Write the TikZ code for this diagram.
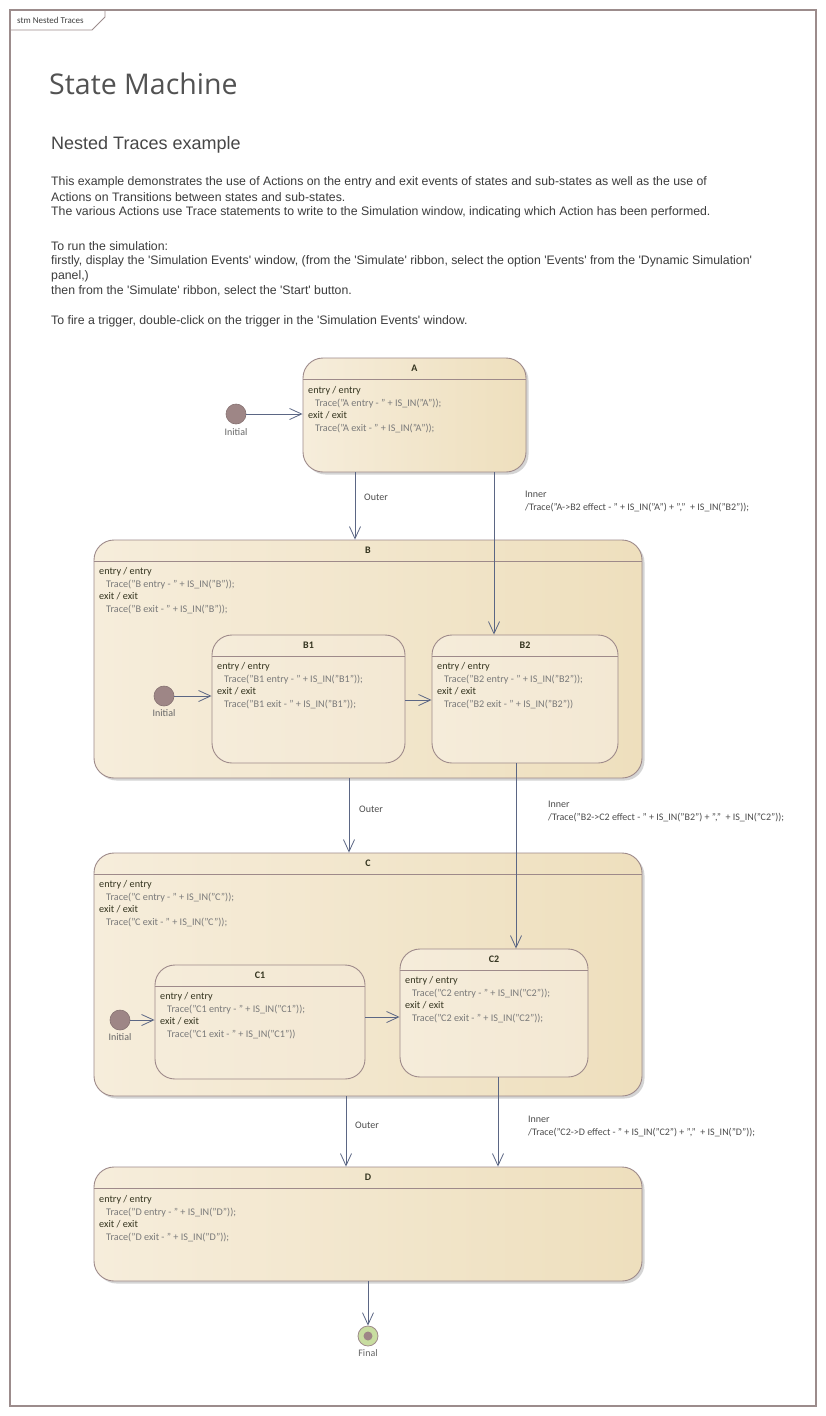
\documentclass[tikz,border=0pt]{standalone}
\usepackage{fontspec}
\setmainfont{Carlito}
\newfontfamily\descfont{Liberation Sans}
\newfontfamily\titlefont{Open Sans}
\usetikzlibrary{arrows.meta,shadows}

\definecolor{frameline}{HTML}{9C8C8C}
\definecolor{stateline}{HTML}{9E8A8A}
\definecolor{stlight}{HTML}{F6EDDB}
\definecolor{stdark}{HTML}{EEDFBD}
\definecolor{sublight}{HTML}{F5ECDA}
\definecolor{subdark}{HTML}{F3E8D3}
\definecolor{trline}{HTML}{5B6684}
\definecolor{pseudo}{HTML}{9E8686}
\definecolor{finalfill}{HTML}{C8DDA0}
\definecolor{txtdark}{HTML}{34341F}
\definecolor{txtgray}{HTML}{7A7A7A}
\definecolor{desctext}{HTML}{3C3C3C}

% one state: entry/exit behaviours, four lines
\newcommand\stacts[5]{%
  \node[actkey] (#1-en) at (#2,#3) {entry / entry};
  \node[acttrace] (#1-et) at (#2+7,#3+12.7) {#4};
  \node[actkey] (#1-ex) at (#2,#3+25.4) {exit / exit};
  \node[acttrace] (#1-xt) at (#2+7,#3+38.1) {#5};
}
% header rule of a state box
\newcommand\sthead[1]{%
  \draw[stateline, line width=0.9pt] ([yshift=-21.5pt]#1.north west) -- ([yshift=-21.5pt]#1.north east);
}

\begin{document}
\begin{tikzpicture}[x=1pt,y=-1pt,
  stbox/.style={draw=stateline, line width=0.9pt, rounded corners=20pt,
    left color=stlight, right color=stdark, inner sep=0pt,
    drop shadow={shadow xshift=2.5pt, shadow yshift=-2.5pt, opacity=0.3, fill=black!55}},
  subbox/.style={draw=stateline, line width=0.9pt, rounded corners=20pt,
    left color=sublight, right color=subdark, inner sep=0pt},
  stname/.style={font=\bfseries\fontsize{10}{12}\selectfont, text=txtdark, inner sep=0pt},
  actkey/.style={anchor=base west, inner sep=0pt, font=\fontsize{10.2}{12}\selectfont, text=txtdark},
  acttrace/.style={anchor=base west, inner sep=0pt, font=\fontsize{10.2}{12}\selectfont, text=txtgray},
  trans/.style={draw=trline, line width=0.8pt, -{Straight Barb[length=12pt,width=11pt]}},
  translbl/.style={anchor=west, inner sep=0pt, font=\fontsize{10}{12}\selectfont, text=black!70},
  initpt/.style={circle, fill=pseudo, draw=pseudo!85!black, line width=0.6pt, minimum size=20pt, inner sep=0pt},
  pslabel/.style={inner sep=0pt, font=\fontsize{10}{12}\selectfont, text=black!60},
  desc/.style={anchor=west, inner sep=0pt, font=\descfont\fontsize{12.3}{14}\selectfont, text=desctext}]

% page and frame
\fill[white] (0,0) rectangle (826,1416);
\useasboundingbox (0,0) rectangle (826,1416);
\draw[frameline, line width=1.3pt] (10,10) rectangle (816,1406);
\draw[frameline, line width=0.9pt] (10,30) -- (92,30) -- (105,17) -- (105,10);
\node[anchor=west, inner sep=0pt, font=\fontsize{9}{11}\selectfont, text=black!75] (frametag) at (17,20) {stm Nested Traces};

% heading and notes
\node[anchor=west, inner sep=0pt, font=\titlefont\fontsize{28.5}{34}\selectfont, text=black!68] (title) at (49,84) {State Machine};
\node[anchor=west, inner sep=0pt, font=\descfont\fontsize{18}{21}\selectfont, text=black!72] (subtitle) at (51,145) {Nested Traces example};
\node[desc] (d1) at (51,182) {This example demonstrates the use of Actions on the entry and exit events of states and sub-states as well as the use of};
\node[desc] (d2) at (51,197) {Actions on Transitions between states and sub-states.};
\node[desc] (d3) at (51,212) {The various Actions use Trace statements to write to the Simulation window, indicating which Action has been performed.};
\node[desc] (d4) at (51,246) {To run the simulation:};
\node[desc] (d5) at (51,261) {firstly, display the 'Simulation Events' window, (from the 'Simulate' ribbon, select the option 'Events' from the 'Dynamic Simulation'};
\node[desc] (d6) at (51,276) {panel,)};
\node[desc] (d7) at (51,291) {then from the 'Simulate' ribbon, select the 'Start' button.};
\node[desc] (d8) at (51,321) {To fire a trigger, double-click on the trigger in the 'Simulation Events' window.};

% ---- state A
\node[stbox, minimum width=223pt, minimum height=114pt] (A) at (414.5,415) {};
\sthead{A}
\node[stname] (A-n) at (414.5,368.5) {A};
\stacts{A}{308}{393.5}{Trace("A entry - " + IS\_IN("A"));}{Trace("A exit - " + IS\_IN("A"));}
\node[initpt] (iA) at (236,414) {};
\node[pslabel] (iA-l) at (236,432) {Initial};

% ---- state B with B1, B2
\node[stbox, minimum width=548pt, minimum height=238pt] (B) at (368,659) {};
\sthead{B}
\node[stname] (B-n) at (368,550.5) {B};
\stacts{B}{99}{574.5}{Trace("B entry - " + IS\_IN("B"));}{Trace("B exit - " + IS\_IN("B"));}

\node[subbox, minimum width=193pt, minimum height=128pt] (B1) at (308.5,699) {};
\sthead{B1}
\node[stname] (B1-n) at (308.5,645.5) {B1};
\stacts{B1}{217}{669.5}{Trace("B1 entry - " + IS\_IN("B1"));}{Trace("B1 exit - " + IS\_IN("B1"));}

\node[subbox, minimum width=186pt, minimum height=128pt] (B2) at (525,699) {};
\sthead{B2}
\node[stname] (B2-n) at (525,645.5) {B2};
\stacts{B2}{437}{669.5}{Trace("B2 entry - " + IS\_IN("B2"));}{Trace("B2 exit - " + IS\_IN("B2"))}

\node[initpt] (iB) at (164,696) {};
\node[pslabel] (iB-l) at (164,713) {Initial};

% ---- state C with C1, C2
\node[stbox, minimum width=548pt, minimum height=243pt] (C) at (368,974.5) {};
\sthead{C}
\node[stname] (C-n) at (368,863.5) {C};
\stacts{C}{99}{887.5}{Trace("C entry - " + IS\_IN("C"));}{Trace("C exit - " + IS\_IN("C"));}

\node[subbox, minimum width=210pt, minimum height=114pt] (C1) at (260,1022) {};
\sthead{C1}
\node[stname] (C1-n) at (260,975.5) {C1};
\stacts{C1}{160}{999.5}{Trace("C1 entry - " + IS\_IN("C1"));}{Trace("C1 exit - " + IS\_IN("C1"))}

\node[subbox, minimum width=188pt, minimum height=128pt] (C2) at (494,1013) {};
\sthead{C2}
\node[stname] (C2-n) at (494,959.5) {C2};
\stacts{C2}{405}{983.5}{Trace("C2 entry - " + IS\_IN("C2"));}{Trace("C2 exit - " + IS\_IN("C2"));}

\node[initpt] (iC) at (120,1020) {};
\node[pslabel] (iC-l) at (120,1037) {Initial};

% ---- state D and final
\node[stbox, minimum width=548pt, minimum height=114pt] (D) at (368,1224) {};
\sthead{D}
\node[stname] (D-n) at (368,1177.5) {D};
\stacts{D}{99}{1202.5}{Trace("D entry - " + IS\_IN("D"));}{Trace("D exit - " + IS\_IN("D"));}

\node[circle, draw=stateline, line width=0.8pt, fill=finalfill, minimum size=20pt, inner sep=0pt] (fin) at (368,1336) {};
\node[circle, fill=pseudo, minimum size=9pt, inner sep=0pt] (fin-dot) at (fin) {};
\node[pslabel] (fin-l) at (368,1353) {Final};

% ---- transitions
\draw[trans] (iA) -- (iA -| A.west);
\draw[trans] (iB) -- (iB -| B1.west);
\draw[trans] (iC) -- (iC -| C1.west);
\draw[trans] ([yshift=-1pt]B1.east) -- ([yshift=-1pt]B2.west);
\draw[trans] ([yshift=5pt]C1.east) -- ([yshift=-4pt]C2.west);

\draw[trans] ([xshift=-59.5pt]A.south) -- ([xshift=-13pt]B.north);
\node[translbl] (t1) at (364,497) {Outer};
\draw[trans] ([xshift=79.5pt]A.south) -- ([xshift=-31pt]B2.north);
\node[translbl] (t2a) at (525,494) {Inner};
\node[translbl] (t2b) at (525,508) {/Trace("A->B2 effect - " + IS\_IN("A") + "," \ + IS\_IN("B2"));};

\draw[trans] ([xshift=-19pt]B.south) -- ([xshift=-19pt]C.north);
\node[translbl] (t3) at (359,809) {Outer};
\draw[trans] ([xshift=-9pt]B2.south) -- ([xshift=22pt]C2.north);
\node[translbl] (t4a) at (548,804) {Inner};
\node[translbl] (t4b) at (548,818) {/Trace("B2->C2 effect - " + IS\_IN("B2") + "," \ + IS\_IN("C2"));};

\draw[trans] ([xshift=-22pt]C.south) -- ([xshift=-22pt]D.north);
\node[translbl] (t5) at (355,1125) {Outer};
\draw[trans] ([xshift=4pt]C2.south) -- ([xshift=130pt]D.north);
\node[translbl] (t6a) at (528,1119) {Inner};
\node[translbl] (t6b) at (528,1133) {/Trace("C2->D effect - " + IS\_IN("C2") + "," \ + IS\_IN("D"));};

\draw[trans] (D.south) -- (fin.north);
\end{tikzpicture}
\end{document}
